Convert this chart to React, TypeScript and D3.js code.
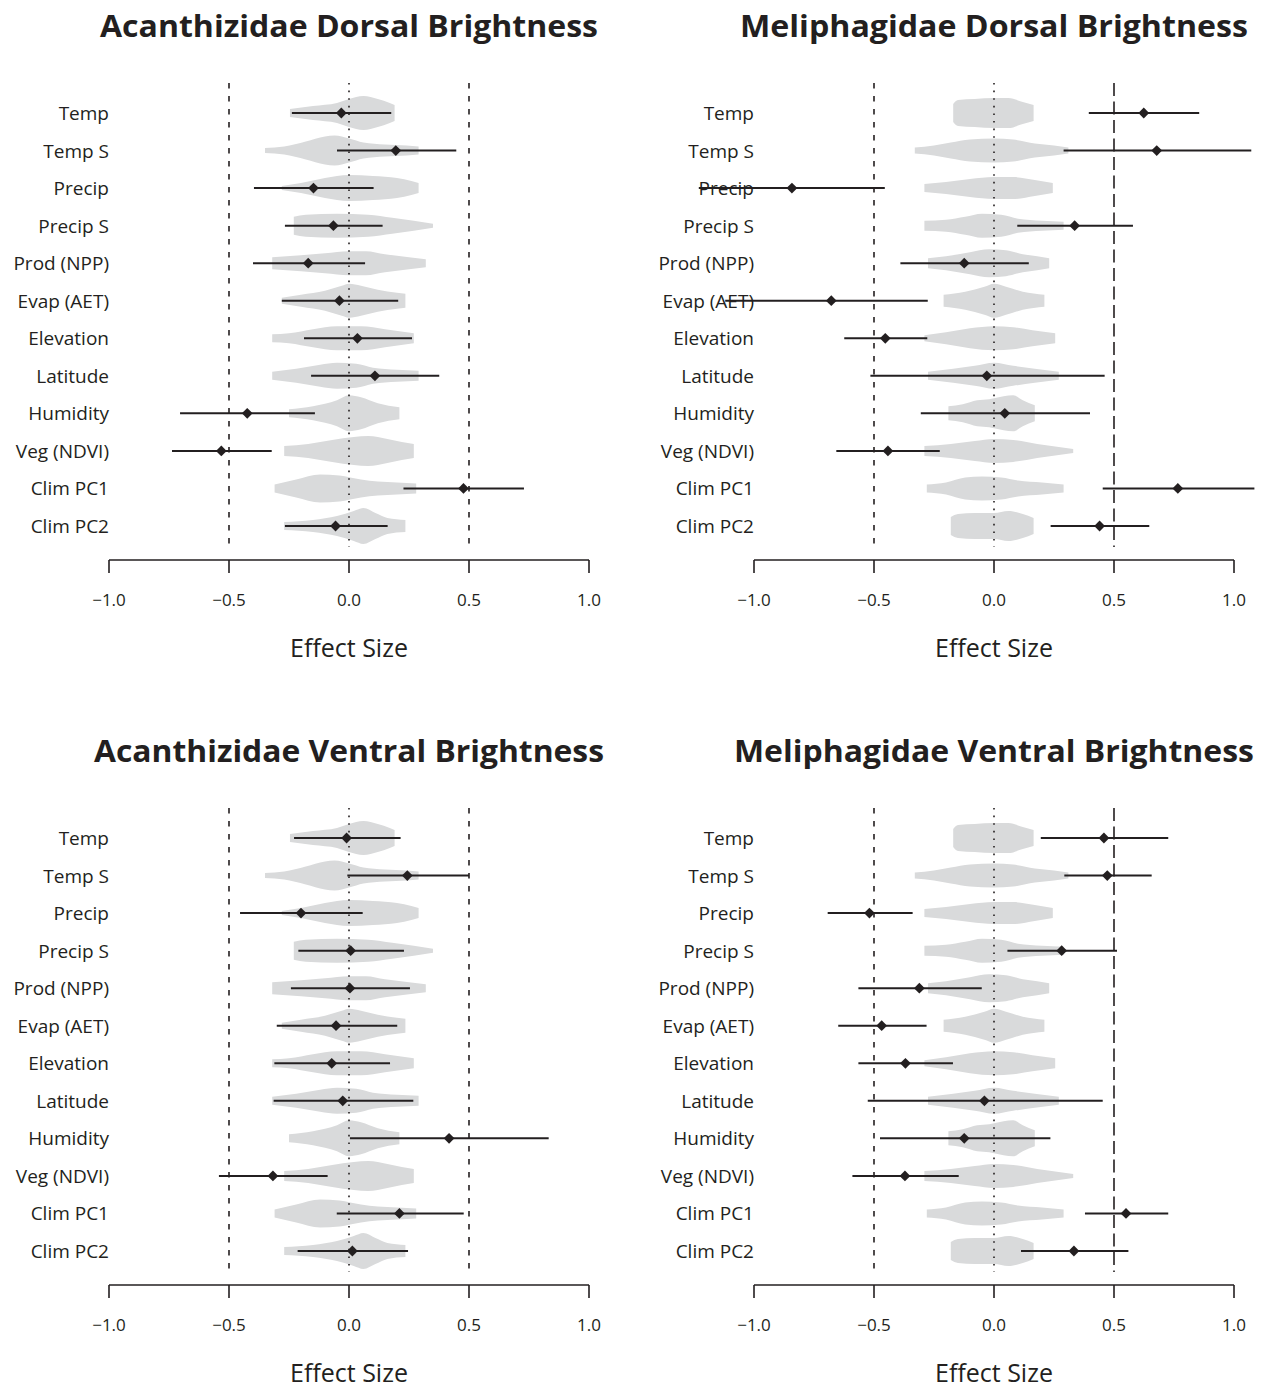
import React from "react";
import * as d3 from "d3";

const variables = ["Temp", "Temp S", "Precip", "Precip S", "Prod (NPP)", "Evap (AET)", "Elevation", "Latitude", "Humidity", "Veg (NDVI)", "Clim PC1", "Clim PC2"];
const tickValues = [-1, -0.5, 0, 0.5, 1];

// null-distribution violins: [effect, relative density]
const acanViolins: number[][][] = [
  [[-0.246, 4], [-0.15, 7], [-0.05, 10], [0.0, 14], [0.06, 17], [0.12, 14], [0.17, 10], [0.19, 8]],
  [[-0.35, 2.5], [-0.27, 4], [-0.18, 9], [-0.1, 14], [-0.06, 15], [0.0, 12], [0.06, 8], [0.15, 6], [0.24, 5], [0.29, 4]],
  [[-0.28, 2], [-0.2, 5], [-0.1, 10], [0.0, 13], [0.1, 12], [0.2, 10], [0.26, 7], [0.29, 5]],
  [[-0.23, 9], [-0.18, 11], [-0.05, 12], [0.08, 11], [0.18, 8], [0.27, 5], [0.35, 2]],
  [[-0.32, 6], [-0.2, 8], [-0.1, 10], [0.0, 12], [0.07, 12], [0.15, 9], [0.25, 6], [0.32, 4]],
  [[-0.28, 3], [-0.2, 6], [-0.1, 10], [-0.03, 15], [0.0, 17], [0.05, 15], [0.12, 11], [0.2, 8], [0.235, 7]],
  [[-0.32, 4], [-0.25, 5], [-0.15, 9], [-0.05, 12], [0.05, 12], [0.15, 9], [0.27, 5]],
  [[-0.32, 4], [-0.22, 7], [-0.12, 11], [-0.05, 13], [0.03, 12], [0.1, 8], [0.2, 6], [0.29, 5]],
  [[-0.25, 4], [-0.15, 7], [-0.05, 13], [0.0, 18], [0.05, 16], [0.12, 10], [0.21, 6]],
  [[-0.27, 5], [-0.17, 7], [-0.07, 11], [0.02, 14], [0.08, 15], [0.16, 12], [0.22, 9], [0.27, 7]],
  [[-0.31, 4], [-0.22, 9], [-0.12, 14], [-0.04, 13], [0.05, 9], [0.12, 7], [0.2, 6], [0.28, 5]],
  [[-0.27, 4], [-0.15, 6], [-0.05, 10], [0.02, 15], [0.06, 18], [0.11, 13], [0.16, 8], [0.235, 6]],
];

const meliViolins: number[][][] = [
  [[-0.17, 9], [-0.15, 13], [-0.08, 14], [0.0, 15], [0.06, 15], [0.12, 11], [0.165, 8]],
  [[-0.33, 3], [-0.25, 5], [-0.18, 8], [-0.1, 11], [0.0, 12], [0.08, 11], [0.17, 7], [0.25, 5], [0.31, 3]],
  [[-0.29, 4], [-0.2, 6], [-0.1, 9], [0.0, 11], [0.08, 11], [0.17, 8], [0.245, 5]],
  [[-0.29, 5], [-0.2, 6], [-0.12, 9], [-0.05, 12], [0.03, 11], [0.1, 7], [0.2, 5], [0.29, 4]],
  [[-0.275, 5], [-0.2, 7], [-0.1, 11], [-0.02, 14], [0.05, 13], [0.12, 9], [0.18, 7], [0.23, 5]],
  [[-0.21, 6], [-0.12, 9], [-0.04, 14], [0.0, 17], [0.05, 14], [0.12, 9], [0.21, 6]],
  [[-0.29, 3], [-0.2, 6], [-0.1, 10], [0.0, 12], [0.08, 11], [0.16, 8], [0.255, 5]],
  [[-0.275, 4], [-0.17, 7], [-0.08, 10], [0.0, 13], [0.08, 10], [0.17, 7], [0.27, 4]],
  [[-0.19, 7], [-0.13, 9], [-0.07, 13], [-0.02, 14], [0.04, 17], [0.08, 18], [0.12, 13], [0.17, 8]],
  [[-0.29, 5], [-0.18, 7], [-0.08, 10], [0.0, 12], [0.08, 11], [0.18, 7], [0.27, 4], [0.33, 2]],
  [[-0.28, 4], [-0.2, 6], [-0.12, 11], [-0.05, 12], [0.03, 11], [0.1, 8], [0.2, 6], [0.29, 4]],
  [[-0.18, 9], [-0.15, 12], [-0.08, 13], [0.0, 13], [0.06, 15], [0.12, 12], [0.165, 8]],
];

const acanDorsalEst = [-0.032, 0.195, -0.148, -0.065, -0.17, -0.04, 0.035, 0.108, -0.424, -0.532, 0.477, -0.056];
const acanDorsalLo = [-0.238, -0.05, -0.396, -0.267, -0.4, -0.28, -0.1875, -0.158, -0.704, -0.7375, 0.227, -0.267];
const acanDorsalHi = [0.176, 0.447, 0.1025, 0.14, 0.067, 0.205, 0.2625, 0.376, -0.142, -0.322, 0.729, 0.161];

const meliDorsalEst = [0.624, 0.678, -0.842, 0.336, -0.124, -0.678, -0.453, -0.03, 0.045, -0.442, 0.766, 0.44];
const meliDorsalLo = [0.395, 0.29, -1.23, 0.097, -0.39, -1.12, -0.624, -0.515, -0.305, -0.657, 0.453, 0.236];
const meliDorsalHi = [0.855, 1.072, -0.455, 0.579, 0.145, -0.276, -0.278, 0.461, 0.4, -0.226, 1.085, 0.647];

const acanVentralEst = [-0.01, 0.243, -0.2, 0.007, 0.004, -0.054, -0.072, -0.026, 0.417, -0.317, 0.21, 0.014];
const acanVentralLo = [-0.229, -0.007, -0.454, -0.211, -0.242, -0.301, -0.311, -0.314, 0.004, -0.542, -0.051, -0.214];
const acanVentralHi = [0.215, 0.5, 0.057, 0.229, 0.254, 0.201, 0.171, 0.268, 0.832, -0.089, 0.478, 0.246];

const meliVentralEst = [0.458, 0.472, -0.519, 0.282, -0.311, -0.468, -0.369, -0.04, -0.124, -0.371, 0.55, 0.333];
const meliVentralLo = [0.195, 0.293, -0.693, 0.056, -0.565, -0.649, -0.565, -0.526, -0.475, -0.59, 0.379, 0.1125];
const meliVentralHi = [0.726, 0.657, -0.339, 0.5125, -0.051, -0.281, -0.171, 0.453, 0.235, -0.147, 0.726, 0.56];

const INK = "#231f20";
const VIOLIN = "#d9dadb";
const FONT = "'Open Sans', 'DejaVu Sans', sans-serif";

type PanelProps = {
  title: string;
  titleWidth: number;
  violins: number[][][];
  est: number[];
  lo: number[];
  hi: number[];
  left: number;
  top: number;
  longDashRight: boolean;
};

function Panel({ title, titleWidth, violins, est, lo, hi, left, top, longDashRight }: PanelProps) {
  const x = d3.scaleLinear().domain([-1, 1]).range([left, left + 480]);
  const y = d3.scalePoint<string>().domain(variables).range([top + 113, top + 526]);
  const w = d3.scaleLinear().domain([0, 1]).range([0, 1]);
  const fmt = d3.format(".1f");
  const cx = x(0);
  const lineTop = top + 83;
  const lineBot = top + 547;
  const axisY = top + 560;
  const diamond = d3.symbol(d3.symbolSquare, 58)()!;

  return (
    <g>
      <text x={cx} y={top + 37} textAnchor="middle" fontFamily={FONT} fontWeight={700} fontSize={31}
        textLength={titleWidth} lengthAdjust="spacingAndGlyphs" fill={INK}>{title}</text>
      {variables.map((v) => (
        <text key={v} x={x(-1)} y={(y(v) as number) + 7} textAnchor="end" fontFamily={FONT} fontSize={19} fill={INK}>{v}</text>
      ))}
      {variables.map((v, i) => {
        const yc = y(v) as number;
        const area = d3.area<number[]>()
          .x((d) => x(d[0]))
          .y0((d) => yc - w(d[1]))
          .y1((d) => yc + w(d[1]))
          .curve(d3.curveMonotoneX);
        return <path key={"vio" + v} d={area(violins[i]) || ""} fill={VIOLIN} stroke="none" />;
      })}
      <line x1={x(-0.5)} x2={x(-0.5)} y1={lineTop} y2={lineBot} stroke={INK} strokeWidth={1.6} strokeDasharray="5.5,7.5" />
      <line x1={x(0.5)} x2={x(0.5)} y1={lineTop} y2={lineBot} stroke={INK} strokeWidth={1.6}
        strokeDasharray={longDashRight ? "13,5.5" : "5.5,7.5"} />
      <line x1={cx} x2={cx} y1={lineTop} y2={lineBot} stroke={INK} strokeWidth={1.6} strokeDasharray="1.6,6" />
      {variables.map((v, i) => {
        const yc = y(v) as number;
        return (
          <g key={"ci" + v}>
            <line x1={x(lo[i])} x2={x(hi[i])} y1={yc} y2={yc} stroke={INK} strokeWidth={2} />
            <path d={diamond} transform={`translate(${x(est[i])},${yc}) rotate(45)`} fill={INK} />
          </g>
        );
      })}
      <line x1={x(-1)} x2={x(1)} y1={axisY} y2={axisY} stroke={INK} strokeWidth={1.6} />
      {tickValues.map((t) => (
        <g key={"t" + t}>
          <line x1={x(t)} x2={x(t)} y1={axisY} y2={axisY + 13} stroke={INK} strokeWidth={1.6} />
          <text x={x(t)} y={axisY + 46} textAnchor="middle" fontFamily={FONT} fontSize={17} fill={INK}>{fmt(t)}</text>
        </g>
      ))}
      <text x={cx} y={top + 657} textAnchor="middle" fontFamily={FONT} fontSize={25} fill={INK}>Effect Size</text>
    </g>
  );
}

export default function App() {
  return (
    <svg width={1264} height={1389} viewBox="0 0 1264 1389"
      style={{ position: "absolute", left: 0, top: 0, display: "block", background: "#fff" }}>
      <rect x={0} y={0} width={1264} height={1389} fill="#fff" />
      <Panel title="Acanthizidae Dorsal Brightness" titleWidth={498} violins={acanViolins}
        est={acanDorsalEst} lo={acanDorsalLo} hi={acanDorsalHi} left={109} top={0} longDashRight={false} />
      <Panel title="Meliphagidae Dorsal Brightness" titleWidth={508} violins={meliViolins}
        est={meliDorsalEst} lo={meliDorsalLo} hi={meliDorsalHi} left={754} top={0} longDashRight={true} />
      <Panel title="Acanthizidae Ventral Brightness" titleWidth={510} violins={acanViolins}
        est={acanVentralEst} lo={acanVentralLo} hi={acanVentralHi} left={109} top={725} longDashRight={false} />
      <Panel title="Meliphagidae Ventral Brightness" titleWidth={520} violins={meliViolins}
        est={meliVentralEst} lo={meliVentralLo} hi={meliVentralHi} left={754} top={725} longDashRight={true} />
    </svg>
  );
}
